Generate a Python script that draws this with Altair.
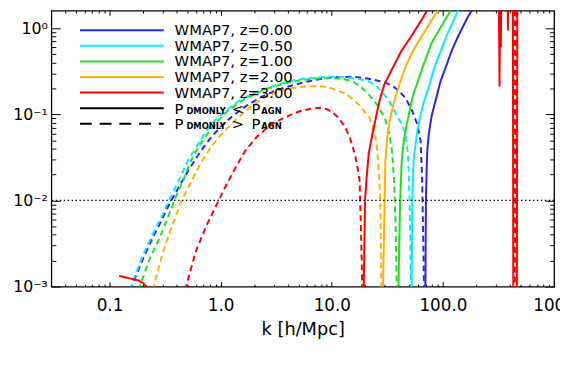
import altair as alt
import pandas as pd

# ---------------- data ----------------
z_labels = ["0.00", "0.50", "1.00", "2.00", "3.00"]
colors = ["#2a22ee", "#00eeff", "#22dd22", "#ffb000", "#ff0000"]
legend_labels = ["WMAP7, z=0.00", "WMAP7, z=0.50", "WMAP7, z=1.00", "WMAP7, z=2.00", "WMAP7, z=3.00"]

# z = 0.00 (blue)
k_z0_dash = [0.150, 0.158, 0.20, 0.25, 0.30, 0.347, 0.43, 0.52, 0.65, 0.80, 1.0, 1.3, 1.7, 2.3, 3.1, 4.2, 5.6, 7.5,
             10, 13, 17, 21, 26, 30, 35, 40, 46, 53, 58.7, 62.9, 65, 66, 67, 67.8]
v_z0_dash = [0.0007, 0.001, 0.0021, 0.0039, 0.0062, 0.0092, 0.015, 0.023, 0.036, 0.052, 0.072, 0.097, 0.125, 0.158,
             0.188, 0.213, 0.235, 0.254, 0.267, 0.272, 0.270, 0.260, 0.245, 0.235, 0.215, 0.188, 0.155, 0.109, 0.077,
             0.049, 0.018, 0.006, 0.002, 0.0006]
k_z0_solid = [68.7, 69.5, 70.3, 71.5, 72.5, 74.6, 79, 85.5, 95, 105, 120, 138, 165, 200, 260, 400]
v_z0_solid = [0.0005, 0.001, 0.01, 0.025, 0.04, 0.059, 0.095, 0.142, 0.24, 0.34, 0.55, 0.82, 1.3, 1.97, 3.2, 5.5]

# z = 0.50 (cyan)
k_z05_dash = [0.148, 0.156, 0.20, 0.25, 0.30, 0.34, 0.42, 0.506, 0.60, 0.711, 0.85, 1.07, 1.4, 1.85, 2.5, 3.19, 4.3,
              5.9, 7.8, 10.2, 13.5, 17.5, 21, 25, 29, 33, 38, 42, 46, 48.5, 50, 50.8, 51.5]
v_z05_dash = [0.0007, 0.001, 0.0023, 0.0043, 0.0068, 0.0098, 0.017, 0.029, 0.041, 0.059, 0.08, 0.105, 0.138, 0.169,
              0.198, 0.22, 0.245, 0.262, 0.270, 0.273, 0.268, 0.255, 0.245, 0.215, 0.175, 0.14, 0.10, 0.08, 0.06,
              0.035, 0.012, 0.004, 0.0008]
k_z05_solid = [51.8, 52.3, 53, 54.5, 58.5, 63, 67.5, 74, 83, 108, 147, 220]
v_z05_solid = [0.0005, 0.001, 0.01, 0.03, 0.062, 0.10, 0.142, 0.20, 0.34, 0.82, 1.97, 4.0]

# z = 1.00 (green)
k_z1_dash = [0.178, 0.187, 0.23, 0.28, 0.33, 0.385, 0.46, 0.541, 0.64, 0.76, 0.93, 1.15, 1.5, 1.98, 2.6, 3.41, 4.4,
             5.5, 6.8, 8.3, 10.5, 13, 15.5, 18.5, 22, 26, 30, 33, 35, 36.5, 37.5, 38.4, 38.8]
v_z1_dash = [0.0007, 0.001, 0.0021, 0.0036, 0.0060, 0.0102, 0.017, 0.029, 0.043, 0.059, 0.082, 0.109, 0.14, 0.169,
             0.197, 0.22, 0.238, 0.251, 0.258, 0.262, 0.262, 0.255, 0.24, 0.205, 0.165, 0.125, 0.09, 0.06, 0.035,
             0.015, 0.005, 0.001, 0.0005]
k_z1_solid = [39.4, 39.8, 41.2, 42.6, 44.5, 46.6, 53, 65, 79.8, 105, 129, 180]
v_z1_solid = [0.0005, 0.001, 0.01, 0.029, 0.05, 0.070, 0.155, 0.34, 0.69, 1.26, 1.97, 3.5]

# z = 2.00 (orange)
k_z2_dash = [0.24, 0.25, 0.30, 0.36, 0.45, 0.55, 0.65, 0.80, 0.97, 1.25, 1.55, 2.0, 2.43, 3.1, 3.92, 5.0, 6.3, 8.3,
             10, 11.6, 13.56, 16, 18, 20, 21.84, 23, 24.3, 25.3, 25.9, 26.8, 27.3, 27.8, 28.1]
v_z2_dash = [0.0007, 0.001, 0.0024, 0.0048, 0.0102, 0.017, 0.026, 0.040, 0.055, 0.078, 0.100, 0.13, 0.155, 0.178,
             0.195, 0.207, 0.212, 0.21, 0.2, 0.186, 0.172, 0.145, 0.125, 0.105, 0.091, 0.077, 0.062, 0.045, 0.032,
             0.0172, 0.01, 0.002, 0.0005]
k_z2_solid = [28.6, 28.9, 29.9, 30.3, 31.8, 33.5, 36.4, 40, 43.2, 48, 53, 65, 79.8, 101, 140]
v_z2_solid = [0.0005, 0.001, 0.01, 0.029, 0.059, 0.09, 0.14, 0.21, 0.286, 0.40, 0.528, 0.82, 1.26, 1.97, 3.5]

# z = 3.00 (red)
k_z3_solid_a = [0.122, 0.15, 0.181, 0.2, 0.215, 0.225]
v_z3_solid_a = [0.00133, 0.00125, 0.00118, 0.0011, 0.001, 0.0008]
k_z3_dash_a = [0.47, 0.489, 0.6, 0.75, 0.967, 1.15, 1.36, 1.65, 2.12, 2.7, 3.46, 4.3, 5.21, 6.5, 7.85, 9.0, 10.3,
               11.5, 12.65, 13.6, 14.5, 15.3, 16.06, 16.7, 17.19, 17.8, 18.2, 18.6, 18.9]
v_z3_dash_a = [0.0007, 0.001, 0.0026, 0.0052, 0.0102, 0.016, 0.024, 0.037, 0.055, 0.072, 0.087, 0.099, 0.109, 0.116,
               0.119, 0.115, 0.104, 0.091, 0.0766, 0.065, 0.0538, 0.044, 0.0348, 0.028, 0.0224, 0.0172, 0.006, 0.002,
               0.0005]
k_z3_solid_b = [19.2, 19.4, 19.9, 20.5, 21.5, 23.2, 26.8, 29.7, 35.0, 41.8, 52.6, 64.6, 79, 110, 170, 250, 315, 323,
                329, 332, 338, 378, 384, 390, 425, 430]
v_z3_solid_b = [0.0005, 0.001, 0.01, 0.0172, 0.035, 0.0594, 0.1416, 0.222, 0.338, 0.529, 0.828, 1.26, 1.97, 3.5, 6,
                9, 12, 0.21, 12, 0.6, 12, 12, 0.94, 12, 12, 0.0003]
k_z3_dash_b = [436, 441, 452, 457]
v_z3_dash_b = [0.0003, 12, 12, 0.0003]
k_z3_solid_c = [462, 468, 600]
v_z3_solid_c = [0.0003, 12, 15]

threshold = [0.01]

x_major = [0.1, 1, 10, 100, 1000]
x_major_labels = ["0.1", "1.0", "10.0", "100.0", "1000"]
x_minor = [0.04, 0.05, 0.06, 0.07, 0.08, 0.09, 0.2, 0.3, 0.4, 0.5, 0.6, 0.7, 0.8, 0.9,
           2, 3, 4, 5, 6, 7, 8, 9, 20, 30, 40, 50, 60, 70, 80, 90, 200, 300, 400, 500, 600, 700, 800, 900]
y_major = [0.001, 0.01, 0.1, 1]
y_major_labels = ["10\u207b\u00b3", "10\u207b\u00b2", "10\u207b\u00b9", "10\u2070"]
y_minor = [0.002, 0.003, 0.004, 0.005, 0.006, 0.007, 0.008, 0.009, 0.02, 0.03, 0.04, 0.05, 0.06, 0.07, 0.08, 0.09,
           0.2, 0.3, 0.4, 0.5, 0.6, 0.7, 0.8, 0.9]

segments = [
    ("0.00", "dashed", k_z0_dash, v_z0_dash), ("0.00", "solid", k_z0_solid, v_z0_solid),
    ("0.50", "dashed", k_z05_dash, v_z05_dash), ("0.50", "solid", k_z05_solid, v_z05_solid),
    ("1.00", "dashed", k_z1_dash, v_z1_dash), ("1.00", "solid", k_z1_solid, v_z1_solid),
    ("2.00", "dashed", k_z2_dash, v_z2_dash), ("2.00", "solid", k_z2_solid, v_z2_solid),
    ("3.00", "solid", k_z3_solid_a, v_z3_solid_a), ("3.00", "dashed", k_z3_dash_a, v_z3_dash_a),
    ("3.00", "solid", k_z3_solid_b, v_z3_solid_b), ("3.00", "dashed", k_z3_dash_b, v_z3_dash_b),
    ("3.00", "solid", k_z3_solid_c, v_z3_solid_c),
]
rows = []
for i, (z, style, ks, vs) in enumerate(segments):
    for k, v in zip(ks, vs):
        rows.append({"k": k, "v": v, "z": z, "style": style, "seg": i})
df = pd.DataFrame(rows)

FONT = "DejaVu Sans"
W, H = 510, 280

xscale = alt.Scale(type="log", domain=[0.03, 1000], nice=False)
yscale = alt.Scale(type="log", domain=[0.001, 1.6], nice=False)


def label_expr(vals, labs):
    expr = "''"
    for v, l in reversed(list(zip(vals, labs))):
        expr = f"datum.value == {v} ? '{l}' : ({expr})"
    return expr


def tick_axis(orient, values, size, **kw):
    base = dict(orient=orient, values=values, tickSize=size, offset=-size, domain=False, grid=False,
                ticks=True, tickColor="black", tickWidth=1)
    if "labels" not in kw:
        base["labels"] = False
    if "title" not in kw:
        base["title"] = ""
    base.update(kw)
    return alt.Axis(**base)


ax_bottom = tick_axis("bottom", x_major, 5, labels=True, labelExpr=label_expr(x_major, x_major_labels),
                      labelFontSize=17, labelPadding=11, labelFlush=False, labelOverlap=False, labelFont=FONT,
                      labelColor="black", title="k [h/Mpc]", titleFontSize=18, titleFontWeight="normal",
                      titleFont=FONT, titleColor="black", titlePadding=8)
ax_left = tick_axis("left", y_major, 9, labels=True, labelExpr=label_expr(y_major, y_major_labels),
                    labelFontSize=16, labelPadding=4, labelOverlap=False, labelFont=FONT, labelColor="black")

curves = alt.Chart(df).mark_line(clip=True, strokeWidth=2).encode(
    x=alt.X("k:Q", scale=xscale, axis=ax_bottom),
    y=alt.Y("v:Q", scale=yscale, axis=ax_left),
    color=alt.Color("z:N", scale=alt.Scale(domain=z_labels, range=colors), legend=None),
    strokeDash=alt.StrokeDash("style:N", scale=alt.Scale(domain=["solid", "dashed"], range=[[1, 0], [6, 4]]),
                              legend=None),
    detail="seg:N",
)

dotted = alt.Chart(pd.DataFrame({"thr": threshold})).mark_rule(
    color="black", strokeWidth=1.2, strokeDash=[1.5, 2.5]
).encode(y=alt.Y("thr:Q", scale=yscale, axis=None))

tick_df = pd.DataFrame({"k": [1.0], "v": [0.1]})


def tick_layer(xax, yax):
    return alt.Chart(tick_df).mark_point(opacity=0).encode(
        x=alt.X("k:Q", scale=xscale, axis=xax),
        y=alt.Y("v:Q", scale=yscale, axis=yax),
    )


ticks_b = tick_layer(tick_axis("bottom", x_minor, 2.5), tick_axis("left", y_minor, 4.5))
ticks_c = tick_layer(tick_axis("top", x_major, 5), tick_axis("right", y_major, 9))
ticks_d = tick_layer(tick_axis("top", x_minor, 2.5), tick_axis("right", y_minor, 4.5))

# legend (drawn inside the plot, top-left)
row_y = [20, 35.8, 51.6, 67.4, 83.2, 99.0, 114.8]
legend_layers = []
for i in range(5):
    one = pd.DataFrame({"label": [legend_labels[i]]})
    legend_layers.append(alt.Chart(one).mark_rule(color=colors[i], strokeWidth=2).encode(
        x=alt.value(29), x2=alt.value(114), y=alt.value(row_y[i])))
    legend_layers.append(alt.Chart(one).mark_text(align="left", baseline="alphabetic", font=FONT, fontSize=15,
                                                  color="black").encode(
        x=alt.value(125), y=alt.value(row_y[i] + 5), text="label:N"))

p_rows = [("<", [1, 0]), (">", [12, 8])]
for j, (sym, dash) in enumerate(p_rows):
    yy = row_y[5 + j]
    one = pd.DataFrame({"label": ["P"], "sub1": ["DMONLY"], "sym": [sym], "sub2": ["AGN"]})
    legend_layers.append(alt.Chart(one).mark_rule(color="black", strokeWidth=2, strokeDash=dash).encode(
        x=alt.value(29), x2=alt.value(114), y=alt.value(yy)))
    big = dict(align="left", baseline="alphabetic", font=FONT, fontSize=15, color="black")
    small = dict(align="left", baseline="alphabetic", font=FONT, fontSize=8.5, fontWeight="bold", color="black")
    legend_layers.append(alt.Chart(one).mark_text(**big).encode(x=alt.value(125), y=alt.value(yy + 5.5), text="label:N"))
    legend_layers.append(alt.Chart(one).mark_text(**small).encode(x=alt.value(137), y=alt.value(yy + 5.5), text="sub1:N"))
    legend_layers.append(alt.Chart(one).mark_text(**big).encode(x=alt.value(183), y=alt.value(yy + 5.5), text="sym:N"))
    legend_layers.append(alt.Chart(one).mark_text(**big).encode(x=alt.value(203), y=alt.value(yy + 5.5), text="label:N"))
    legend_layers.append(alt.Chart(one).mark_text(**small).encode(x=alt.value(213), y=alt.value(yy + 5.5), text="sub2:N"))

chart = alt.layer(curves, dotted, *legend_layers, ticks_b, ticks_c, ticks_d).resolve_axis(
    x="independent", y="independent"
).properties(
    width=W, height=H,
    autosize=alt.AutoSizeParams(type="none"),
    padding={"left": 44, "top": 0, "right": 6, "bottom": 80},
    background="white",
).configure_view(stroke="black", strokeWidth=1.3)

chart.save("out.html", embed_options={"renderer": "svg", "actions": False})
